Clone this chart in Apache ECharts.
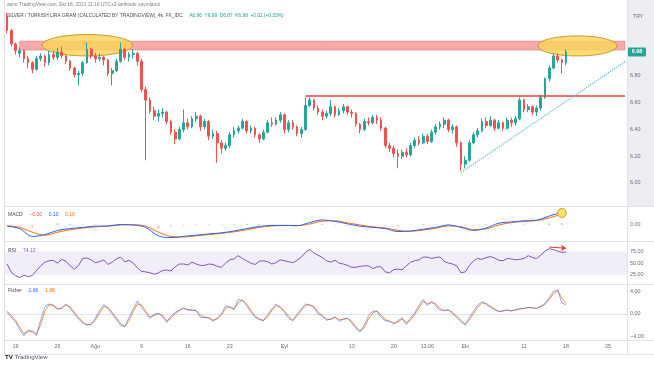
<!DOCTYPE html>
<html><head><meta charset="utf-8">
<script src="https://cdn.jsdelivr.net/npm/echarts@6/dist/echarts.min.js"></script>
<style>html,body{margin:0;padding:0;background:#fff}#c{width:654px;height:366px}</style>
</head><body><div id="c"></div>
<script>
// ---------- DATA ----------
// half-day candles: [open, close, low, high]
const candles = [
[7.25,7.14,7.12,7.27],[7.14,7.04,7.02,7.15],[7.04,6.99,6.96,7.05],[6.97,6.99,6.94,7.01],[6.99,6.93,6.90,7.00],
[6.93,6.90,6.86,6.95],[6.90,6.85,6.82,6.91],[6.85,6.93,6.84,6.95],[6.93,6.95,6.91,6.97],[6.95,6.90,6.87,6.96],
[6.90,6.96,6.88,6.99],[6.96,6.94,6.92,6.99],[6.94,6.98,6.92,7.01],[6.98,6.95,6.93,7.02],[6.95,6.91,6.89,6.96],
[6.91,6.86,6.84,6.92],[6.86,6.81,6.79,6.87],[6.81,6.82,6.73,6.84],[6.82,6.90,6.80,6.91],[6.90,7.00,6.89,7.05],
[7.00,6.95,6.93,7.01],[6.95,6.93,6.90,6.97],[6.93,6.94,6.91,6.97],[6.94,6.92,6.88,6.95],[6.92,6.82,6.80,6.93],
[6.82,6.84,6.73,6.86],[6.84,6.91,6.83,6.93],[6.91,7.00,6.90,7.05],[7.00,6.94,6.92,7.01],[6.94,6.96,6.91,6.98],
[6.96,6.97,6.93,7.00],[6.97,6.91,6.88,6.98],[6.91,6.70,6.68,6.93],[6.70,6.62,6.17,6.72],[6.62,6.54,6.52,6.64],
[6.54,6.50,6.47,6.57],[6.50,6.52,6.46,6.55],[6.52,6.53,6.49,6.56],[6.53,6.46,6.44,6.54],[6.46,6.38,6.36,6.47],
[6.38,6.33,6.29,6.40],[6.33,6.40,6.32,6.42],[6.40,6.45,6.38,6.55],[6.45,6.42,6.40,6.48],[6.42,6.48,6.41,6.50],
[6.48,6.50,6.46,6.53],[6.50,6.42,6.39,6.51],[6.42,6.46,6.40,6.48],[6.46,6.35,6.32,6.47],[6.35,6.37,6.33,6.40],
[6.37,6.30,6.15,6.39],[6.30,6.26,6.22,6.32],[6.26,6.28,6.24,6.30],[6.28,6.36,6.26,6.38],[6.36,6.39,6.34,6.42],
[6.39,6.41,6.37,6.43],[6.41,6.46,6.40,6.48],[6.46,6.39,6.37,6.47],[6.39,6.41,6.37,6.43],[6.41,6.36,6.34,6.42],
[6.36,6.33,6.30,6.37],[6.33,6.38,6.32,6.40],[6.38,6.45,6.37,6.47],[6.45,6.44,6.42,6.49],[6.44,6.47,6.43,6.49],
[6.47,6.51,6.45,6.53],[6.51,6.40,6.37,6.52],[6.40,6.45,6.38,6.47],[6.45,6.42,6.40,6.47],[6.42,6.37,6.35,6.43],
[6.37,6.40,6.34,6.42],[6.40,6.58,6.39,6.64],[6.58,6.62,6.57,6.64],[6.62,6.56,6.54,6.63],[6.56,6.53,6.51,6.58],
[6.53,6.50,6.47,6.55],[6.50,6.52,6.48,6.54],[6.52,6.57,6.50,6.62],[6.57,6.51,6.49,6.58],[6.51,6.54,6.50,6.56],
[6.54,6.57,6.52,6.59],[6.57,6.53,6.51,6.58],[6.53,6.52,6.49,6.55],[6.52,6.44,6.42,6.53],[6.44,6.40,6.37,6.45],
[6.40,6.46,6.39,6.48],[6.46,6.45,6.43,6.49],[6.45,6.49,6.44,6.51],[6.49,6.47,6.44,6.51],[6.47,6.41,6.39,6.49],
[6.41,6.28,6.26,6.42],[6.28,6.26,6.23,6.30],[6.26,6.22,6.19,6.28],[6.22,6.20,6.11,6.25],[6.20,6.23,6.18,6.25],
[6.23,6.21,6.19,6.26],[6.21,6.28,6.20,6.30],[6.28,6.32,6.26,6.34],[6.32,6.30,6.28,6.35],[6.30,6.35,6.29,6.37],
[6.35,6.31,6.29,6.37],[6.31,6.38,6.30,6.40],[6.38,6.42,6.36,6.44],[6.42,6.44,6.40,6.46],[6.44,6.47,6.41,6.49],
[6.47,6.40,6.38,6.48],[6.40,6.42,6.37,6.44],[6.42,6.30,6.27,6.43],[6.30,6.14,6.09,6.31],[6.14,6.17,6.11,6.20],
[6.17,6.30,6.16,6.32],[6.30,6.36,6.29,6.38],[6.36,6.39,6.34,6.41],[6.39,6.46,6.38,6.48],[6.46,6.43,6.41,6.49],
[6.43,6.47,6.42,6.50],[6.47,6.41,6.39,6.48],[6.41,6.45,6.40,6.47],[6.45,6.41,6.39,6.46],[6.41,6.47,6.40,6.49],
[6.47,6.45,6.42,6.49],[6.45,6.48,6.43,6.50],[6.48,6.62,6.47,6.64],[6.62,6.55,6.53,6.63],[6.55,6.57,6.53,6.59],
[6.57,6.53,6.51,6.58],[6.53,6.56,6.50,6.58],[6.56,6.64,6.54,6.66],[6.64,6.78,6.63,6.79],[6.78,6.86,6.76,6.88],
[6.86,6.95,6.85,6.97],[6.95,6.92,6.90,6.97],[6.92,6.90,6.82,6.93],[6.90,6.98,6.88,7.00]
];
const futureBars = 14;

// MACD (one value every 3 candles)
const macdStep = 3;
const macdLine = [-0.01,-0.03,-0.095,-0.08,-0.045,-0.03,-0.02,-0.01,-0.008,0.004,0.0,-0.02,-0.09,-0.105,-0.095,-0.085,-0.075,-0.065,-0.05,-0.03,-0.012,-0.004,-0.003,-0.006,0.02,0.042,0.03,0.01,-0.01,-0.02,-0.03,-0.055,-0.05,-0.035,-0.02,0.0,-0.02,-0.045,-0.025,0.015,0.025,0.035,0.04,0.075,0.105];
const macdSignal = [-0.005,-0.02,-0.06,-0.085,-0.06,-0.04,-0.025,-0.015,-0.01,0.0,0.002,-0.01,-0.06,-0.095,-0.1,-0.09,-0.08,-0.07,-0.057,-0.04,-0.02,-0.008,-0.004,-0.005,0.008,0.032,0.035,0.018,0.0,-0.015,-0.025,-0.045,-0.052,-0.042,-0.027,-0.008,-0.015,-0.038,-0.032,0.0,0.02,0.03,0.037,0.06,0.09];
const macdHist = [-0.005,-0.01,-0.02,-0.005,0.015,0.01,0.005,0.005,0.002,0.004,-0.002,-0.01,-0.03,-0.01,0.005,0.005,0.005,0.005,0.007,0.01,0.008,0.004,0.001,-0.001,0.012,0.01,-0.005,-0.008,-0.01,-0.005,-0.005,-0.01,0.002,0.007,0.007,0.008,-0.005,-0.007,0.007,0.015,0.005,0.005,0.003,0.015,0.015];

// RSI (one value per candle)
const rsi = [48,30,23,19,24,21,23,34,44,52,55,56,50,58,54,44,37,45,60,61,57,51,53,57,47,52,59,63,53,56,50,40,32,31,29,26,29,34,35,33,42,48,48,46,52,48,45,45,48,47,43,41,50,57,59,66,60,55,50,47,54,55,53,48,51,57,55,53,51,56,63,73,79,72,67,62,55,52,56,50,48,45,41,41,43,44,44,38,42,42,31,29,36,37,36,44,52,55,57,63,63,60,62,63,54,50,48,44,29,31,45,55,60,58,62,64,61,56,55,60,59,57,58,60,66,62,60,67,76,81,79,76,73,74];

// Fisher transform (one value per candle)
const fisher = [0.3,-0.6,-1.4,-2.8,-3.9,-2.8,-3.2,-3.8,-1.0,1.3,1.8,1.5,0.8,1.1,1.8,1.0,0.0,-0.9,-1.6,-2.0,-1.8,-0.8,0.6,1.7,1.0,0.0,-1.0,-2.0,-2.3,-0.6,0.9,2.3,1.2,0.2,-0.8,0.0,0.1,-0.5,-1.5,-0.4,0.3,0.7,1.1,0.7,0.7,0.6,-0.6,-0.6,-0.7,-1.3,-0.7,0.0,1.5,1.2,0.8,2.6,2.4,1.5,0.3,-0.6,-1.0,-1.2,-0.1,0.9,1.8,1.1,0.3,-0.8,-1.2,0.0,0.9,1.8,1.6,1.2,0.0,-0.4,-1.1,-0.9,-0.5,-1.3,-0.9,-0.7,-1.6,-2.6,-3.2,-2.0,-0.3,0.5,0.5,-0.6,-1.2,-1.3,-1.8,-1.2,-0.7,-1.9,-0.7,0.2,1.5,2.6,1.5,2.3,1.5,0.7,0.6,0.8,0.0,-0.6,-1.4,-2.0,-0.6,0.5,1.6,2.2,1.7,1.2,0.8,0.4,0.6,0.7,0.5,0.8,0.9,1.0,1.2,1.1,1.0,1.4,1.9,2.9,4.0,4.3,2.0,1.66];
const fisherTrigger = [0.5,-0.3,-1.1,-2.3,-3.5,-3.2,-3.0,-3.6,-1.9,0.5,1.6,1.6,1.0,1.0,1.6,1.3,0.3,-0.6,-1.4,-1.9,-1.9,-1.1,0.1,1.3,1.2,0.3,-0.7,-1.7,-2.2,-1.2,0.4,1.8,1.6,0.5,-0.5,-0.3,0.1,-0.3,-1.2,-0.8,0.1,0.6,1.0,0.8,0.7,0.6,-0.2,-0.6,-0.7,-1.1,-0.9,-0.2,1.0,1.3,0.9,2.0,2.5,1.8,0.7,-0.3,-0.9,-1.1,-0.5,0.6,1.5,1.3,0.6,-0.4,-1.1,-0.4,0.6,1.5,1.7,1.3,0.4,-0.3,-0.9,-1.0,-0.6,-1.0,-1.0,-0.8,-1.3,-2.3,-3.0,-2.4,-0.9,0.2,0.5,-0.2,-1.0,-1.3,-1.6,-1.4,-0.9,-1.5,-1.1,-0.1,1.1,2.2,1.9,2.0,1.8,1.0,0.6,0.7,0.3,-0.4,-1.1,-1.8,-1.1,0.1,1.2,2.0,1.9,1.4,0.9,0.5,0.5,0.7,0.6,0.7,0.9,1.0,1.1,1.1,1.0,1.3,1.7,2.6,3.6,4.2,2.8,1.88];

// x-axis tick labels: [candle index, text]
const xTicks = [[2,'19'],[12,'26'],[21,'Ağu'],[32,'9'],[43,'16'],[53,'23'],[66,'Eyl'],[82,'13'],[92,'20'],[100,'13:00'],[109,'Eki'],[123,'11'],[133,'18'],[143,'25']];

// drawings on the price pane (data coordinates: candle index, price)
const supplyZone = {from:3, to:147, top:7.06, bottom:6.995};
const resistance = {from:71, to:147, price:6.653};
const trendLine = {from:108, to:147, p0:6.078, p1:6.908};
const ellipses = [{i0:8.3, i1:29.9, top:7.11, bottom:6.95},{i0:126.3, i1:145.1, top:7.10, bottom:6.95}];
const macdMarker = {i:132, value:0.10};
const rsiArrow = {i0:129, v0:84.5, i1:133, v1:82};
const lastPrice = 6.98;

const headerLine1 = 'asmr TradingView.com, Eki 18, 2021 11:16 UTC+3 tarihinde yayınlandı';
const headerTitle = 'SILVER / TURKISH LIRA GRAM (CALCULATED BY TRADINGVIEW), 4s, FX_IDC';
const headerOHLC = 'A6.96  Y6.99  D6.87  K6.98  +0.02 (+0.33%)';

// ---------- CHART ----------
const UP = '#26a69a', DOWN = '#ef5350';
const FONT = 'Liberation Sans, Arial, sans-serif';
const LBL = '#6a6d78';
const nCat = candles.length + futureBars;
const categories = Array.from({length:nCat}, (_, i) => String(i));
const tickMap = new Map(xTicks);
const stepPairs = (arr, step) => arr.map((v, k) => [k * step, v]);

const chart = echarts.init(document.getElementById('c'), null, {renderer:'canvas'});

const grids = [
  {left:5, right:27, top:9.125, height:200.625},
  {left:5, right:27, top:201, height:48},
  {left:5, right:27, top:239.9, height:46.4},
  {left:5, right:27, top:269.2, height:89.6}
];
const xAxes = grids.map((g, gi) => ({
  type:'category', gridIndex:gi, data:categories, boundaryGap:true,
  axisTick:{show:false}, splitLine:{show:false},
  axisLine:{show: gi===3, lineStyle:{color:'#e0e3eb', width:1}},
  offset: gi===3 ? -18.8 : 0,
  axisLabel: gi===3 ? {
    show:true, interval:(idx) => tickMap.has(idx), formatter:(v, idx) => tickMap.get(idx) || '',
    color:LBL, fontSize:5.4, fontFamily:FONT, margin:4
  } : {show:false}
}));
const yBase = {type:'value', position:'right', axisTick:{show:false}, axisLine:{show:false}, splitLine:{show:false}};
const yAxes = [
  Object.assign({}, yBase, {gridIndex:0, min:5.8, max:7.3, interval:0.2,
    axisLabel:{color:LBL, fontSize:5.4, fontFamily:FONT, margin:3,
      formatter:v => (v > 5.99 && v < 6.81) ? v.toFixed(2) : ''}}),
  Object.assign({}, yBase, {gridIndex:1, min:-0.2, max:0.2, interval:0.1,
    axisLabel:{color:LBL, fontSize:5.4, fontFamily:FONT, margin:3,
      formatter:v => Math.abs(v) < 1e-9 ? '0.00' : ''}}),
  Object.assign({}, yBase, {gridIndex:2, min:0, max:100, interval:25,
    axisLabel:{color:LBL, fontSize:5.4, fontFamily:FONT, margin:3,
      formatter:v => (v > 0 && v < 100) ? v.toFixed(2) : ''}}),
  Object.assign({}, yBase, {gridIndex:3, min:-8, max:8, interval:4,
    axisLabel:{color:LBL, fontSize:5.4, fontFamily:FONT, margin:3,
      formatter:v => Math.abs(v) > 5 ? '' : (v < 0 ? '\u2212' + Math.abs(v).toFixed(2) : v.toFixed(2))}})
];

const lvl = (y, color) => [{yAxis:y, lineStyle:{color:color, type:[2,2], width:1}}, {yAxis:y}];
const option = {
  animation:false,
  backgroundColor:'#ffffff',
  grid:grids, xAxis:xAxes, yAxis:yAxes,
  series:[
    {type:'candlestick', name:'price', xAxisIndex:0, yAxisIndex:0, data:candles, barWidth:2.2, z:3,
      itemStyle:{color:UP, color0:DOWN, borderColor:UP, borderColor0:DOWN, borderWidth:1},
      markArea:{silent:true, label:{show:false},
        itemStyle:{color:'#f6a9a9', borderColor:'#ee9393', borderWidth:1},
        data:[[{coord:[supplyZone.from, supplyZone.top]}, {coord:[supplyZone.to, supplyZone.bottom]}]]},
      markLine:{silent:true, symbol:['none','none'], label:{show:false},
        data:[
          [{coord:[resistance.from, resistance.price], lineStyle:{color:'#e8413c', width:1.6, type:'solid'}}, {coord:[resistance.to, resistance.price]}],
          [{coord:[trendLine.from, trendLine.p0], lineStyle:{color:'#5ab6d8', width:1.2, type:'dotted'}}, {coord:[trendLine.to, trendLine.p1]}]
        ]}
    },
    {type:'bar', name:'hist', xAxisIndex:1, yAxisIndex:1, data:stepPairs(macdHist, macdStep), barWidth:2,
      itemStyle:{color:p => p.value[1] >= 0 ? '#a8dcd5' : '#fbc4c8'}},
    {type:'line', name:'macd', xAxisIndex:1, yAxisIndex:1, data:stepPairs(macdLine, macdStep), symbol:'none', smooth:0.35,
      lineStyle:{color:'#2962ff', width:1},
      markPoint:{silent:true, symbol:'circle', symbolSize:9, label:{show:false},
        itemStyle:{color:'#fbe26b', borderColor:'#c9a12e', borderWidth:1},
        data:[{coord:[macdMarker.i, macdMarker.value]}]}},
    {type:'line', name:'signal', xAxisIndex:1, yAxisIndex:1, data:stepPairs(macdSignal, macdStep), symbol:'none', smooth:0.35,
      lineStyle:{color:'#ff6d00', width:1}, z:1},
    {type:'line', name:'rsi', xAxisIndex:2, yAxisIndex:2, data:rsi, symbol:'none',
      lineStyle:{color:'#7e57c2', width:1},
      markArea:{silent:true, itemStyle:{color:'rgba(126,87,194,0.1)'}, data:[[{yAxis:25}, {yAxis:75}]]},
      markLine:{silent:true, symbol:['none','none'], label:{show:false},
        data:[lvl(75,'#9598a1'), lvl(50,'#c3c5cc'), lvl(25,'#9598a1'),
          [{coord:[rsiArrow.i0, rsiArrow.v0], lineStyle:{color:'#e53935', width:1, type:'solid'}},
           {coord:[rsiArrow.i1, rsiArrow.v1], symbol:'arrow', symbolSize:5}]]}},
    {type:'line', name:'trigger', xAxisIndex:3, yAxisIndex:3, data:fisherTrigger, symbol:'none',
      lineStyle:{color:'#ff6d00', width:1, opacity:0.75}},
    {type:'line', name:'fisher', xAxisIndex:3, yAxisIndex:3, data:fisher, symbol:'none',
      lineStyle:{color:'#2962ff', width:1, opacity:0.55},
      markLine:{silent:true, symbol:['none','none'], label:{show:false},
        data:[lvl(1.5,'#f07c8c'), lvl(0.75,'#e4aab3'), lvl(0,'#f07c8c'), lvl(-0.75,'#e4aab3'), lvl(-1.5,'#f07c8c')]}}
  ]
};
chart.setOption(option);

// ---------- annotations placed through the axes ----------
const px = (i, p) => chart.convertToPixel({xAxisIndex:0, yAxisIndex:0}, [i, p]);
const a0 = px(0, 7), a100 = px(100, 7);
const xOf = i => a0[0] + (a100[0] - a0[0]) * i / 100;
const yOf = p => px(0, p)[1];

const txt = (x, y, text, color, size, weight) => ({type:'text', x:x, y:y, z:30,
  style:{text:text, fill:color, font:`${weight || 'normal'} ${size}px ${FONT}`, textVerticalAlign:'middle'}});

const graphics = [
  {type:'rect', z:0, shape:{x:627, y:0, width:27, height:206}, style:{fill:'#eceef2'}},
  {type:'line', z:20, shape:{x1:627.5, y1:0, x2:627.5, y2:355}, style:{stroke:'#e0e3eb', lineWidth:1}},
  {type:'line', z:20, shape:{x1:4, y1:206.5, x2:654, y2:206.5}, style:{stroke:'#e0e3eb', lineWidth:1}},
  {type:'line', z:20, shape:{x1:4, y1:241.5, x2:654, y2:241.5}, style:{stroke:'#e0e3eb', lineWidth:1}},
  {type:'line', z:20, shape:{x1:4, y1:284.5, x2:654, y2:284.5}, style:{stroke:'#e0e3eb', lineWidth:1}},
  {type:'line', z:20, shape:{x1:4, y1:340.5, x2:654, y2:340.5}, style:{stroke:'#e0e3eb', lineWidth:1}},
  {type:'line', z:20, shape:{x1:4, y1:354.5, x2:654, y2:354.5}, style:{stroke:'#e0e3eb', lineWidth:1}},
  {type:'line', z:20, shape:{x1:4.5, y1:0, x2:4.5, y2:355}, style:{stroke:'#e0e3eb', lineWidth:1}}
];
ellipses.forEach(e => {
  const x0 = xOf(e.i0), x1 = xOf(e.i1), yt = yOf(e.top), yb = yOf(e.bottom);
  graphics.push({type:'ellipse', z:1.5, silent:true,
    shape:{cx:(x0 + x1) / 2, cy:(yt + yb) / 2, rx:(x1 - x0) / 2, ry:(yb - yt) / 2},
    style:{fill:'rgba(250,212,90,0.82)', stroke:'#c99a2a', lineWidth:1}});
});
const yLast = yOf(lastPrice);
graphics.push({type:'rect', z:25, shape:{x:628, y:yLast - 4.5, width:18, height:9, r:1}, style:{fill:UP}});
graphics.push({type:'text', x:637, y:yLast, z:30, style:{text:lastPrice.toFixed(2), fill:'#ffffff',
  font:`bold 5.4px ${FONT}`, textAlign:'center', textVerticalAlign:'middle'}});
graphics.push(txt(633, 17, 'TRY', LBL, 5.2));
graphics.push(txt(7, 4.8, headerLine1, '#7b7e89', 4.9));
graphics.push({type:'text', x:7, y:16, z:30, style:{
  text:`{t|${headerTitle}}  {g|${headerOHLC}}`,
  textVerticalAlign:'middle',
  rich:{t:{fill:'#4a4d57', font:`4.8px ${FONT}`}, g:{fill:'#22a08f', font:`4.8px ${FONT}`}}}});
graphics.push({type:'text', x:8, y:215, z:30, style:{
  text:'{t|MACD}  {r|\u22120.00}  {b|0.10}  {o|0.10}', textVerticalAlign:'middle',
  rich:{t:{fill:'#4a4d57', font:`5px ${FONT}`}, r:{fill:'#ef5350', font:`5px ${FONT}`}, b:{fill:'#2962ff', font:`5px ${FONT}`}, o:{fill:'#ff6d00', font:`5px ${FONT}`}}}});
graphics.push({type:'text', x:8, y:250.5, z:30, style:{
  text:'{t|RSI}  {p|74.13}', textVerticalAlign:'middle',
  rich:{t:{fill:'#4a4d57', font:`5px ${FONT}`}, p:{fill:'#7e57c2', font:`5px ${FONT}`}}}});
graphics.push({type:'text', x:8, y:290.5, z:30, style:{
  text:'{t|Fisher}  {b|1.66}  {o|1.88}', textVerticalAlign:'middle',
  rich:{t:{fill:'#4a4d57', font:`5px ${FONT}`}, b:{fill:'#2962ff', font:`5px ${FONT}`}, o:{fill:'#ff6d00', font:`5px ${FONT}`}}}});
graphics.push(txt(5, 357, 'TV', '#131722', 6, 'bold'));
graphics.push(txt(14.5, 357, 'TradingView', '#50535e', 6));

chart.setOption({graphic:graphics});
</script></body></html>
